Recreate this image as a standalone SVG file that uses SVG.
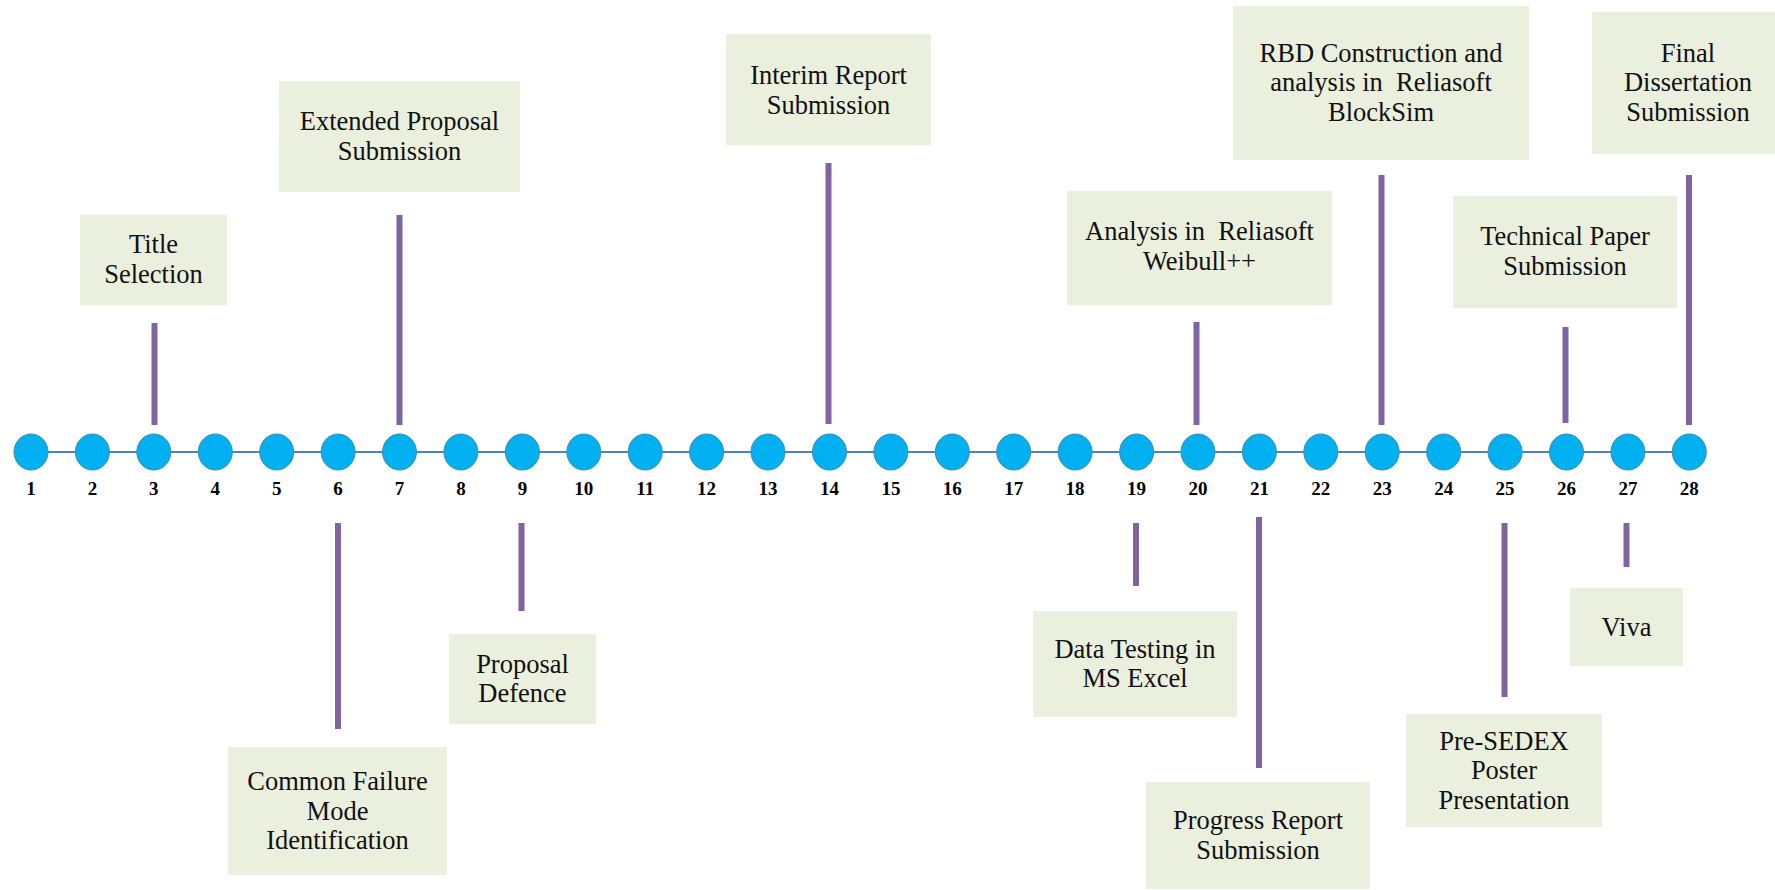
<svg xmlns="http://www.w3.org/2000/svg" width="1775" height="890" viewBox="0 0 1775 890">
  <style>
    .bg { fill: #ffffff; }
    .box { fill: #EBEFDE; }
    .lbl { font-family: "Liberation Serif", "Times New Roman", serif; font-size: 26.5px; fill: #111111; text-anchor: middle; }
    .num { font-family: "Liberation Serif", "Times New Roman", serif; font-size: 19px; font-weight: bold; fill: #000000; text-anchor: middle; }
    .axis { stroke: #4F81BD; stroke-width: 2; fill: none; }
    .tick { stroke: #8064A2; stroke-width: 6; fill: none; }
    .dot { fill: #00B0F0; stroke: #3A8FB0; stroke-width: 1; }
  </style>
  <rect class="bg" x="0" y="0" width="1775" height="890"/>

  <!-- timeline axis and milestone ticks -->
  <g id="connectors">
    <line class="axis" x1="31" y1="452" x2="1689.3" y2="452"/>
    <line class="tick" x1="154.5" y1="323" x2="154.5" y2="425"/>
    <line class="tick" x1="399.5" y1="215" x2="399.5" y2="425"/>
    <line class="tick" x1="338" y1="523" x2="338" y2="729"/>
    <line class="tick" x1="521.5" y1="523" x2="521.5" y2="611"/>
    <line class="tick" x1="828.5" y1="163" x2="828.5" y2="424"/>
    <line class="tick" x1="1136" y1="523" x2="1136" y2="586"/>
    <line class="tick" x1="1196.5" y1="322" x2="1196.5" y2="425"/>
    <line class="tick" x1="1259" y1="517" x2="1259" y2="768"/>
    <line class="tick" x1="1381.5" y1="175" x2="1381.5" y2="425"/>
    <line class="tick" x1="1504.5" y1="523" x2="1504.5" y2="697"/>
    <line class="tick" x1="1565.5" y1="327" x2="1565.5" y2="423"/>
    <line class="tick" x1="1626.5" y1="523" x2="1626.5" y2="567"/>
    <line class="tick" x1="1689" y1="175" x2="1689" y2="425"/>
  </g>

  <!-- week markers -->
  <g id="weeks">
    <ellipse class="dot" cx="31" cy="452" rx="17" ry="18"/>
    <ellipse class="dot" cx="92.4" cy="452" rx="17" ry="18"/>
    <ellipse class="dot" cx="153.8" cy="452" rx="17" ry="18"/>
    <ellipse class="dot" cx="215.3" cy="452" rx="17" ry="18"/>
    <ellipse class="dot" cx="276.7" cy="452" rx="17" ry="18"/>
    <ellipse class="dot" cx="338.1" cy="452" rx="17" ry="18"/>
    <ellipse class="dot" cx="399.5" cy="452" rx="17" ry="18"/>
    <ellipse class="dot" cx="460.9" cy="452" rx="17" ry="18"/>
    <ellipse class="dot" cx="522.4" cy="452" rx="17" ry="18"/>
    <ellipse class="dot" cx="583.8" cy="452" rx="17" ry="18"/>
    <ellipse class="dot" cx="645.2" cy="452" rx="17" ry="18"/>
    <ellipse class="dot" cx="706.6" cy="452" rx="17" ry="18"/>
    <ellipse class="dot" cx="768" cy="452" rx="17" ry="18"/>
    <ellipse class="dot" cx="829.5" cy="452" rx="17" ry="18"/>
    <ellipse class="dot" cx="890.9" cy="452" rx="17" ry="18"/>
    <ellipse class="dot" cx="952.3" cy="452" rx="17" ry="18"/>
    <ellipse class="dot" cx="1013.7" cy="452" rx="17" ry="18"/>
    <ellipse class="dot" cx="1075.1" cy="452" rx="17" ry="18"/>
    <ellipse class="dot" cx="1136.6" cy="452" rx="17" ry="18"/>
    <ellipse class="dot" cx="1198" cy="452" rx="17" ry="18"/>
    <ellipse class="dot" cx="1259.4" cy="452" rx="17" ry="18"/>
    <ellipse class="dot" cx="1320.8" cy="452" rx="17" ry="18"/>
    <ellipse class="dot" cx="1382.2" cy="452" rx="17" ry="18"/>
    <ellipse class="dot" cx="1443.7" cy="452" rx="17" ry="18"/>
    <ellipse class="dot" cx="1505.1" cy="452" rx="17" ry="18"/>
    <ellipse class="dot" cx="1566.5" cy="452" rx="17" ry="18"/>
    <ellipse class="dot" cx="1627.9" cy="452" rx="17" ry="18"/>
    <ellipse class="dot" cx="1689.3" cy="452" rx="17" ry="18"/>
    <text class="num" x="31" y="495">1</text>
    <text class="num" x="92.4" y="495">2</text>
    <text class="num" x="153.8" y="495">3</text>
    <text class="num" x="215.3" y="495">4</text>
    <text class="num" x="276.7" y="495">5</text>
    <text class="num" x="338.1" y="495">6</text>
    <text class="num" x="399.5" y="495">7</text>
    <text class="num" x="460.9" y="495">8</text>
    <text class="num" x="522.4" y="495">9</text>
    <text class="num" x="583.8" y="495">10</text>
    <text class="num" x="645.2" y="495">11</text>
    <text class="num" x="706.6" y="495">12</text>
    <text class="num" x="768" y="495">13</text>
    <text class="num" x="829.5" y="495">14</text>
    <text class="num" x="890.9" y="495">15</text>
    <text class="num" x="952.3" y="495">16</text>
    <text class="num" x="1013.7" y="495">17</text>
    <text class="num" x="1075.1" y="495">18</text>
    <text class="num" x="1136.6" y="495">19</text>
    <text class="num" x="1198" y="495">20</text>
    <text class="num" x="1259.4" y="495">21</text>
    <text class="num" x="1320.8" y="495">22</text>
    <text class="num" x="1382.2" y="495">23</text>
    <text class="num" x="1443.7" y="495">24</text>
    <text class="num" x="1505.1" y="495">25</text>
    <text class="num" x="1566.5" y="495">26</text>
    <text class="num" x="1627.9" y="495">27</text>
    <text class="num" x="1689.3" y="495">28</text>
  </g>

  <!-- milestones above the axis -->
  <g id="title-selection">
    <rect class="box" x="80" y="215" width="147" height="90"/>
    <text class="lbl" x="153.5" y="253">Title</text>
    <text class="lbl" x="153.5" y="282.5">Selection</text>
  </g>
  <g id="extended-proposal">
    <rect class="box" x="279" y="81" width="241" height="111"/>
    <text class="lbl" x="399.5" y="130">Extended Proposal</text>
    <text class="lbl" x="399.5" y="159.5">Submission</text>
  </g>
  <g id="interim-report">
    <rect class="box" x="726" y="34" width="205" height="111"/>
    <text class="lbl" x="828.5" y="84">Interim Report</text>
    <text class="lbl" x="828.5" y="113.5">Submission</text>
  </g>
  <g id="weibull-analysis">
    <rect class="box" x="1067" y="191" width="265" height="114"/>
    <text class="lbl" x="1199.5" y="240" xml:space="preserve">Analysis in  Reliasoft</text>
    <text class="lbl" x="1199.5" y="269.5">Weibull++</text>
  </g>
  <g id="rbd-blocksim">
    <rect class="box" x="1233" y="6" width="296" height="154"/>
    <text class="lbl" x="1381" y="61.5">RBD Construction and</text>
    <text class="lbl" x="1381" y="91" xml:space="preserve">analysis in  Reliasoft</text>
    <text class="lbl" x="1381" y="120.5">BlockSim</text>
  </g>
  <g id="technical-paper">
    <rect class="box" x="1453" y="196" width="224" height="112"/>
    <text class="lbl" x="1565" y="245">Technical Paper</text>
    <text class="lbl" x="1565" y="274.5">Submission</text>
  </g>
  <g id="final-dissertation">
    <rect class="box" x="1592" y="12" width="183" height="142"/>
    <text class="lbl" x="1688" y="61.5">Final</text>
    <text class="lbl" x="1688" y="91">Dissertation</text>
    <text class="lbl" x="1688" y="120.5">Submission</text>
  </g>

  <!-- milestones below the axis -->
  <g id="common-failure-mode">
    <rect class="box" x="228" y="747" width="219" height="128"/>
    <text class="lbl" x="337.5" y="790">Common Failure</text>
    <text class="lbl" x="337.5" y="819.5">Mode</text>
    <text class="lbl" x="337.5" y="849">Identification</text>
  </g>
  <g id="proposal-defence">
    <rect class="box" x="449" y="634" width="147" height="90"/>
    <text class="lbl" x="522.5" y="672.5">Proposal</text>
    <text class="lbl" x="522.5" y="702">Defence</text>
  </g>
  <g id="data-testing">
    <rect class="box" x="1033" y="611" width="204" height="106"/>
    <text class="lbl" x="1135" y="657.5">Data Testing in</text>
    <text class="lbl" x="1135" y="687">MS Excel</text>
  </g>
  <g id="progress-report">
    <rect class="box" x="1146" y="782" width="224" height="107"/>
    <text class="lbl" x="1258" y="829">Progress Report</text>
    <text class="lbl" x="1258" y="858.5">Submission</text>
  </g>
  <g id="pre-sedex">
    <rect class="box" x="1406" y="714" width="196" height="113"/>
    <text class="lbl" x="1504" y="749.5">Pre-SEDEX</text>
    <text class="lbl" x="1504" y="779">Poster</text>
    <text class="lbl" x="1504" y="808.5">Presentation</text>
  </g>
  <g id="viva">
    <rect class="box" x="1570" y="588" width="113" height="78"/>
    <text class="lbl" x="1626.5" y="635.5">Viva</text>
  </g>
</svg>
